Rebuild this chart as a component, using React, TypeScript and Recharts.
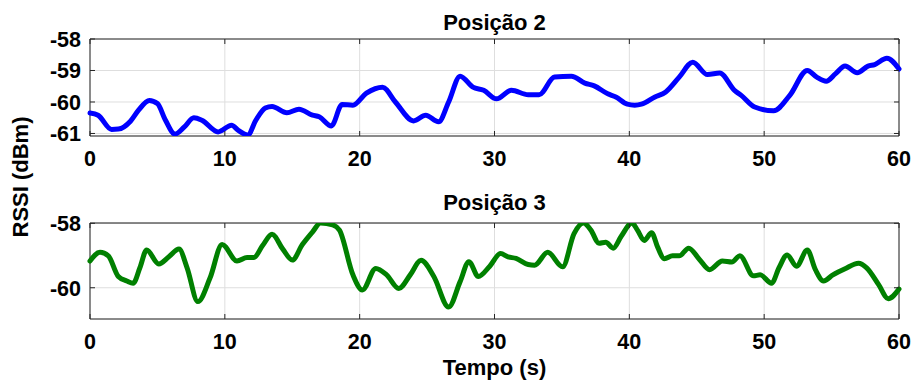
import React from 'react';
import { LineChart, Line, XAxis, YAxis, CartesianGrid, ReferenceArea } from 'recharts';

const time2 = [0, 0.6, 1.6, 2.1, 3.0, 3.6, 4.4, 5.0, 5.6, 6.3, 7.0, 7.7, 8.3, 9.5, 10.5, 11.0, 11.7, 12.3, 13.0, 13.5, 14.6, 15.5, 16.5, 17.0, 17.9, 18.7, 19.5, 20.5, 21.7, 22.65, 24.0, 24.9, 25.85, 26.6, 27.45, 28.4, 29.2, 30.15, 31.25, 32.5, 33.3, 34.45, 35.7, 36.7, 37.4, 38.4, 39.0, 39.85, 40.4, 40.9, 41.9, 42.7, 43.7, 44.7, 45.8, 46.7, 47.8, 48.3, 49.3, 50.7, 51.9, 53.2, 53.9, 54.6, 55.3, 56.0, 56.9, 57.7, 58.2, 59.1, 60];
const rssi2 = [-60.35, -60.42, -60.87, -60.86, -60.61, -60.26, -59.95, -60.05, -60.58, -61.02, -60.79, -60.5, -60.58, -60.95, -60.74, -60.9, -61.05, -60.58, -60.19, -60.14, -60.34, -60.23, -60.42, -60.47, -60.76, -60.08, -60.1, -59.72, -59.53, -60.0, -60.6, -60.42, -60.63, -60.0, -59.18, -59.53, -59.63, -59.9, -59.63, -59.77, -59.77, -59.21, -59.18, -59.4, -59.49, -59.74, -59.84, -60.07, -60.1, -60.07, -59.84, -59.68, -59.21, -58.74, -59.13, -59.08, -59.63, -59.79, -60.16, -60.28, -59.79, -59.0, -59.21, -59.34, -59.1, -58.86, -59.07, -58.86, -58.81, -58.61, -58.95];

const time3 = [0, 0.74, 1.36, 2.1, 2.73, 3.2, 3.7, 4.2, 5.1, 5.85, 6.6, 7.2, 8.0, 8.9, 9.8, 10.9, 11.65, 12.15, 12.8, 13.5, 14.3, 15.0, 15.75, 16.5, 17.1, 18.0, 18.5, 19.5, 20.2, 21.2, 22.0, 22.9, 23.75, 24.55, 25.5, 26.6, 27.45, 28.1, 28.8, 29.65, 30.45, 31.0, 31.6, 32.5, 32.97, 33.95, 35.05, 35.9, 36.6, 37.15, 37.75, 38.25, 38.8, 39.4, 40.2, 40.6, 41.1, 41.65, 42.1, 42.6, 43.2, 43.7, 44.4, 45.2, 45.95, 46.9, 47.6, 48.2, 49.2, 49.7, 50.55, 51.1, 51.7, 52.4, 53.2, 53.8, 54.4, 55.1, 56.0, 57.0, 57.6, 58.5, 59.2, 60.0];
const rssi3 = [-59.17, -58.9, -59.01, -59.65, -59.79, -59.86, -59.38, -58.83, -59.26, -59.04, -58.8, -59.38, -60.43, -59.7, -58.66, -59.17, -59.06, -59.06, -58.69, -58.34, -58.8, -59.14, -58.66, -58.27, -57.99, -58.05, -58.21, -59.6, -60.07, -59.4, -59.6, -60.02, -59.6, -59.15, -59.65, -60.6, -59.81, -59.19, -59.65, -59.33, -58.94, -59.04, -59.09, -59.28, -59.3, -58.9, -59.35, -58.32, -57.99, -58.21, -58.62, -58.59, -58.77, -58.4, -57.99, -58.21, -58.53, -58.29, -58.74, -59.1, -59.01, -59.01, -58.77, -59.12, -59.44, -59.17, -59.2, -59.01, -59.63, -59.6, -59.86, -59.38, -58.98, -59.33, -58.83, -59.44, -59.79, -59.6, -59.41, -59.24, -59.38, -59.91, -60.34, -60.04];

const xTicks = [0, 10, 20, 30, 40, 50, 60];
const yTicks2 = [-61, -60, -59, -58];
const yTicks3 = [-60, -58];
const title2 = 'Posição 2';
const title3 = 'Posição 3';
const xLabel = 'Tempo (s)';
const yLabel = 'RSSI (dBm)';

const data2 = time2.map((t, i) => ({ t, v: rssi2[i] }));
const data3 = time3.map((t, i) => ({ t, v: rssi3[i] }));

const FONT = '"Liberation Sans", Arial, Helvetica, sans-serif';
const FS = 22;
const TFS = 21.5;
const FRAME = '#262626';

const makeXTick = (plotH: number) => (props: any) => {
  const { x, y, payload } = props;
  return (
    <g>
      <line x1={x} y1={y} x2={x} y2={y - 5} stroke={FRAME} strokeWidth={1} />
      <line x1={x} y1={y - plotH} x2={x} y2={y - plotH + 5} stroke={FRAME} strokeWidth={1} />
      <text x={x} y={y + 30} textAnchor="middle" fontFamily={FONT} fontWeight="bold" fontSize={TFS} fill="#000">
        {payload.value}
      </text>
    </g>
  );
};

const makeYTick = (plotW: number) => (props: any) => {
  const { x, y, payload } = props;
  return (
    <g>
      <line x1={x} y1={y} x2={x + 5} y2={y} stroke={FRAME} strokeWidth={1} />
      <line x1={x + plotW} y1={y} x2={x + plotW - 5} y2={y} stroke={FRAME} strokeWidth={1} />
      <text x={x - 9} y={y + 8} textAnchor="end" fontFamily={FONT} fontWeight="bold" fontSize={TFS} fill="#000">
        {payload.value}
      </text>
    </g>
  );
};

interface PanelProps {
  data: { t: number; v: number }[];
  top: number;
  height: number;
  margin: { top: number; right: number; bottom: number; left: number };
  yDomain: [number, number];
  yTicks: number[];
  color: string;
  plotH: number;
}

const PLOT_W = 809;

function Panel({ data, top, height, margin, yDomain, yTicks, color, plotH }: PanelProps) {
  return (
    <div style={{ position: 'absolute', left: 0, top }}>
      <LineChart width={915} height={height} data={data} margin={margin}>
        <CartesianGrid stroke="#dedede" strokeWidth={1} />
        <XAxis
          type="number"
          dataKey="t"
          domain={[0, 60]}
          ticks={xTicks}
          height={30}
          axisLine={false}
          tickLine={false}
          tickSize={0}
          tickMargin={0}
          tick={makeXTick(plotH)}
          interval={0}
        />
        <YAxis
          type="number"
          domain={yDomain}
          allowDataOverflow
          ticks={yTicks}
          width={90}
          axisLine={false}
          tickLine={false}
          tickSize={0}
          tickMargin={0}
          tick={makeYTick(PLOT_W)}
          interval={0}
        />
        <ReferenceArea
          x1={0}
          x2={60}
          y1={yDomain[0]}
          y2={yDomain[1]}
          fill="none"
          fillOpacity={0}
          stroke={FRAME}
          strokeWidth={1}
          ifOverflow="visible"
        />
        <Line
          type="monotone"
          dataKey="v"
          stroke={color}
          strokeWidth={5}
          dot={false}
          isAnimationActive={false}
          strokeLinejoin="round"
          strokeLinecap="round"
        />
      </LineChart>
    </div>
  );
}

export default function App() {
  return (
    <div style={{ position: 'relative', width: 915, height: 381, background: '#fff', overflow: 'hidden' }}>
      <style>{`body{margin:0;}`}</style>
      <Panel
        data={data2}
        top={0}
        height={175}
        margin={{ top: 39, right: 16, bottom: 9, left: 0 }}
        yDomain={[-61.08, -58]}
        yTicks={yTicks2}
        color="#0000ff"
        plotH={97}
      />
      <Panel
        data={data3}
        top={180}
        height={201}
        margin={{ top: 43, right: 16, bottom: 32, left: 0 }}
        yDomain={[-60.97, -57.99]}
        yTicks={yTicks3}
        color="#008000"
        plotH={96}
      />
      <svg width={915} height={381} style={{ position: 'absolute', left: 0, top: 0, pointerEvents: 'none' }}>
        <text x={494.5} y={29.5} textAnchor="middle" fontFamily={FONT} fontWeight="bold" fontSize={FS} fill="#000">{title2}</text>
        <text x={494.5} y={209.5} textAnchor="middle" fontFamily={FONT} fontWeight="bold" fontSize={FS} fill="#000">{title3}</text>
        <text x={494.5} y={374.5} textAnchor="middle" fontFamily={FONT} fontWeight="bold" fontSize={FS} fill="#000">{xLabel}</text>
        <text x={28} y={177} transform="rotate(-90 28 177)" textAnchor="middle" fontFamily={FONT} fontWeight="bold" fontSize={FS} fill="#000">{yLabel}</text>
      </svg>
    </div>
  );
}
